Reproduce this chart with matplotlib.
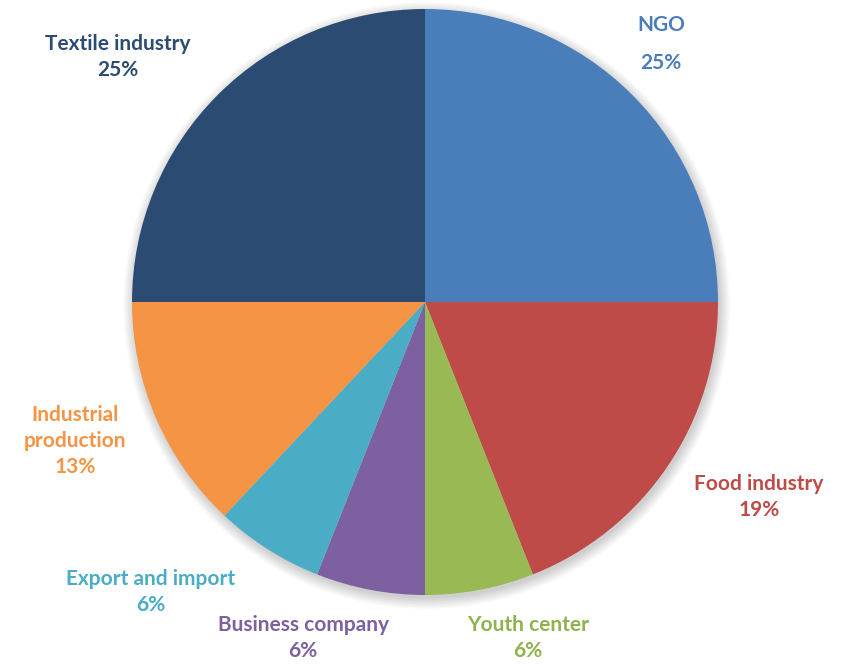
import numpy as np
import matplotlib.pyplot as plt
from matplotlib.patches import Circle

# sectors, clockwise from 12 o'clock
labels = ['NGO', 'Food industry', 'Youth center', 'Business company',
          'Export and import', 'Industrial production', 'Textile industry']
shares = [25, 19, 6, 6, 6, 13, 25]
colors = ['#4A7EBB', '#BE4B48', '#98B954', '#7D60A0', '#4AACC5', '#F59444', '#2C4B72']
text_colors = ['#4A7EBB', '#BE4B48', '#8DB24E', '#7D60A0', '#4AACC5', '#F59444', '#2C4B72']

# label text as printed (with line breaks)
label_text = ['NGO\n25%', 'Food industry\n19%', 'Youth center\n6%',
              'Business company\n6%', 'Export and import\n6%',
              'Industrial\nproduction\n13%', 'Textile industry\n25%']

W, H = 847, 665
cx, cy, R = 425, 302, 293

fig = plt.figure(figsize=(W / 100, H / 100), dpi=100)
ax = fig.add_axes([0, 0, 1, 1])
ax.set_aspect('equal')
ax.axis('off')

# soft shadow under the pie
for k in range(8):
    ax.add_patch(Circle((0.006, -0.012), 1.0 + k * 0.005, color='black',
                        alpha=0.025, lw=0, zorder=0))

ax.pie(shares, colors=colors, startangle=90, counterclock=False, radius=1.0,
       wedgeprops=dict(linewidth=0))
ax.set_xlim(-cx / R, (W - cx) / R)
ax.set_ylim(-(H - cy) / R, cy / R)

# label centres in pixels, and line spacing
label_pos = [(661, 44), (759, 497), (528, 638), (303, 638),
             (151, 592), (75, 441), (118, 57)]
spacing = [2.15, 1.4, 1.4, 1.4, 1.4, 1.38, 1.4]

for txt, (px, py), c, ls in zip(label_text, label_pos, text_colors, spacing):
    ax.text((px - cx) / R, (cy - py) / R, txt, color=c, ha='center', va='center',
            fontsize=15, fontweight='bold', family='Lato', linespacing=ls)

fig.savefig('out.png', dpi=100)
